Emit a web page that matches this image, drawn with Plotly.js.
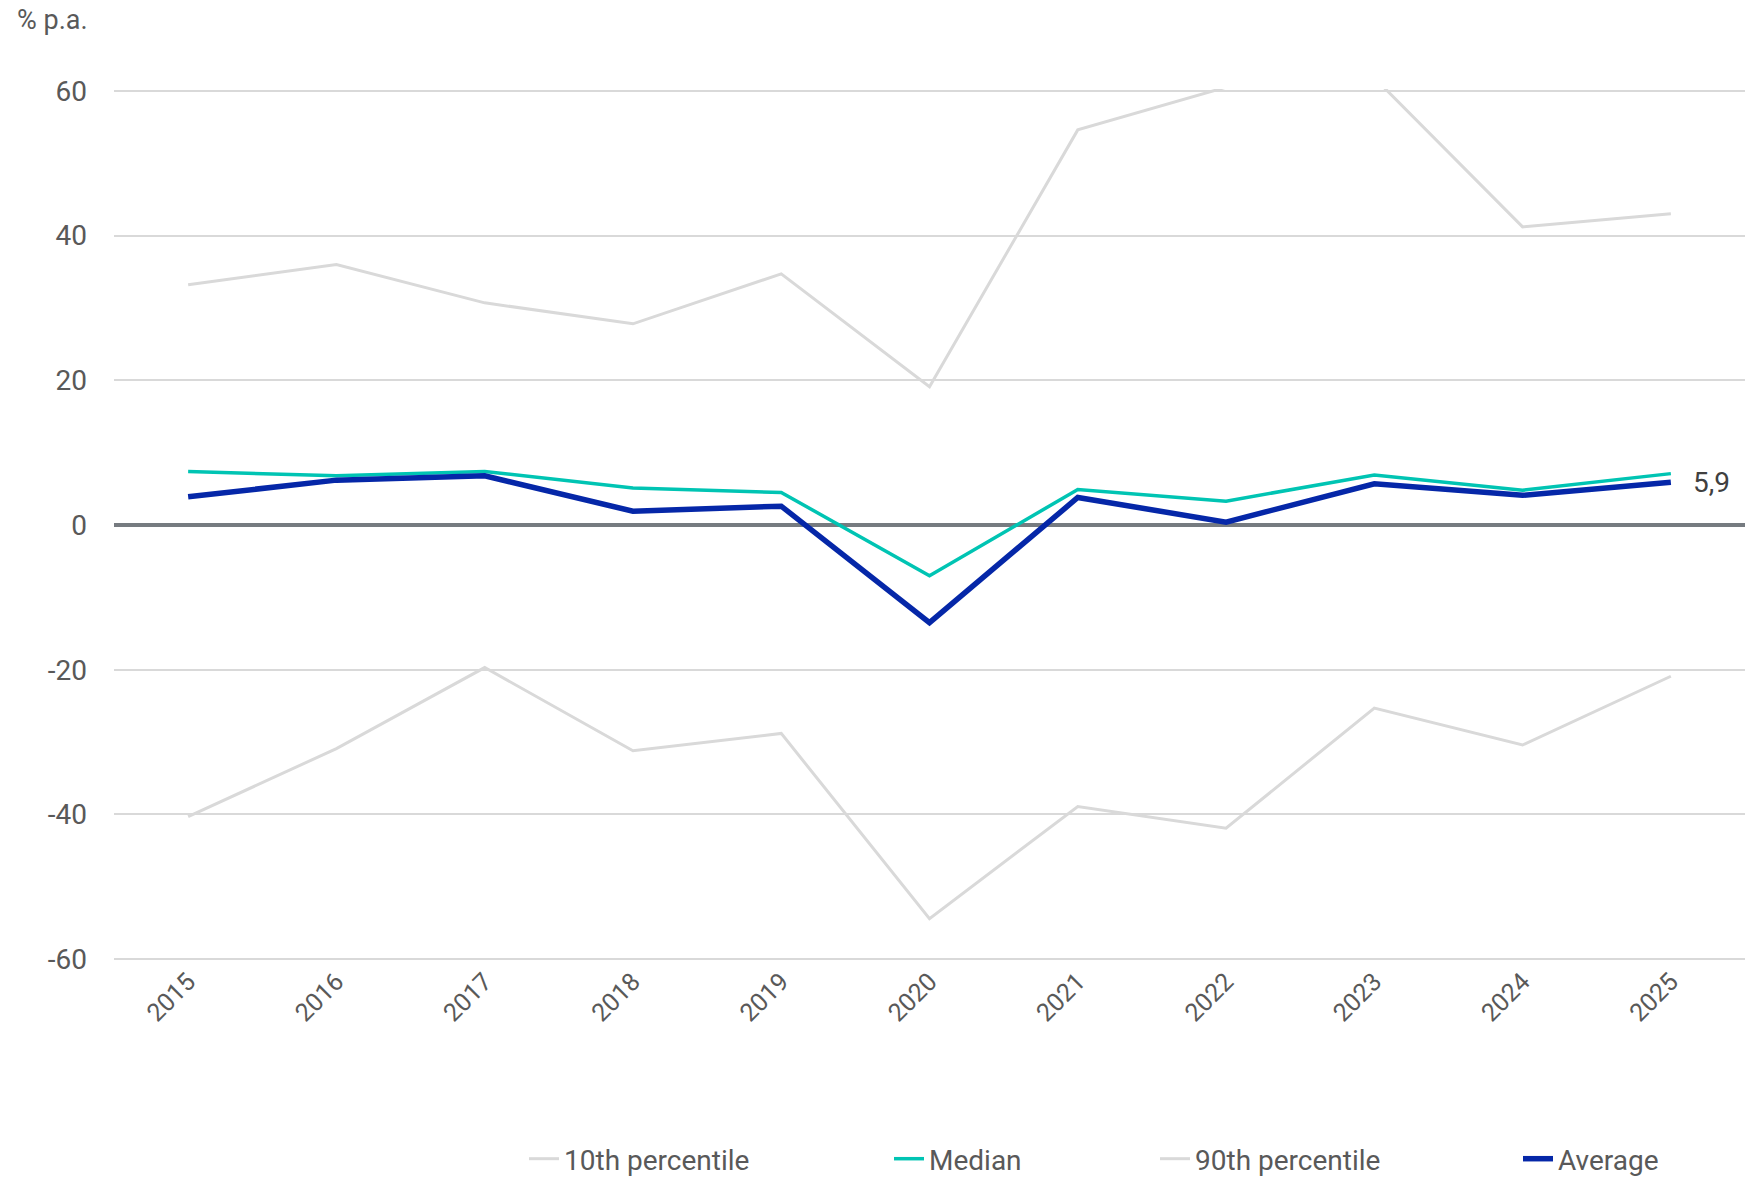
<!DOCTYPE html>
<html>
<head>
<meta charset="utf-8">
<script src="https://cdn.plot.ly/plotly-3.0.1.min.js"></script>
<style>
  html, body { margin: 0; padding: 0; background: #ffffff; }
  #chart { width: 1759px; height: 1178px; }
</style>
</head>
<body>
<div id="chart"></div>
<script>
// ---- data ----
const years = ['2015', '2016', '2017', '2018', '2019', '2020', '2021', '2022', '2023', '2024', '2025'];
const p10 = [-40.3, -30.9, -19.7, -31.2, -28.8, -54.4, -38.9, -41.9, -25.3, -30.4, -20.9];
const median = [7.4, 6.8, 7.4, 5.1, 4.5, -7.0, 4.9, 3.3, 6.9, 4.8, 7.1];
const p90 = [33.2, 36.0, 30.7, 27.8, 34.7, 19.1, 54.6, 60.5, 61.8, 41.2, 43.0];
const average = [3.9, 6.2, 6.8, 1.9, 2.6, -13.5, 3.8, 0.4, 5.7, 4.1, 5.9];
const seriesNames = ['10th percentile', 'Median', '90th percentile', 'Average'];
const yTickVals = [-60, -40, -20, 0, 20, 40, 60];
const yTickText = ['-60', '-40', '-20', '0', '20', '40', '60'];
const unitLabel = '% p.a.';

const FONT = 'Roboto, "Open Sans", Arial, sans-serif';
const TXT = '#595959';
const GRAY = '#d9d9d9';
const TEAL = '#00c4b3';
const BLUE = '#0527a8';

const traces = [
  { x: years, y: p10, name: seriesNames[0], type: 'scatter', mode: 'lines',
    line: { color: GRAY, width: 3 }, legend: 'legend' },
  { x: years, y: median, name: seriesNames[1], type: 'scatter', mode: 'lines',
    line: { color: TEAL, width: 3.5 }, legend: 'legend2' },
  { x: years, y: p90, name: seriesNames[2], type: 'scatter', mode: 'lines',
    line: { color: GRAY, width: 3 }, legend: 'legend3' },
  { x: years, y: average, name: seriesNames[3], type: 'scatter', mode: 'lines',
    line: { color: BLUE, width: 5.5 }, legend: 'legend4' }
];

const W = 1759, H = 1178;
const PAD = 0.25; // small range padding so the ±60 gridlines are drawn
const mL = 114, mR = 14, mT = 89, mB = 217;
const plotW = W - mL - mR;
function legendAt(textStartPx) {
  return {
    orientation: 'h',
    x: (textStartPx - 40 - mL) / plotW, xanchor: 'left',
    xref: 'paper',
    y: 1 - 1159 / H, yanchor: 'middle', yref: 'container',
    bgcolor: 'rgba(0,0,0,0)', borderwidth: 0,
    font: { family: FONT, size: 28, color: TXT }
  };
}

const lastIdx = average.length - 1;
const layout = {
  width: W, height: H,
  paper_bgcolor: '#ffffff', plot_bgcolor: '#ffffff',
  margin: { l: mL, r: mR, t: mT, b: mB, autoexpand: false },
  font: { family: FONT, color: TXT },
  showlegend: true,
  title: {
    text: unitLabel,
    font: { family: FONT, size: 27, color: TXT },
    xref: 'container', x: 17 / W, xanchor: 'left',
    yref: 'container', y: 1 - 20 / H, yanchor: 'middle'
  },
  xaxis: {
    type: 'category',
    range: [-0.5, years.length - 0.5],
    showgrid: false, zeroline: false, showline: false,
    ticks: '', tickangle: -45,
    tickfont: { family: FONT, size: 25, color: TXT },
    fixedrange: true
  },
  yaxis: {
    range: [-60 - PAD, 60 + PAD],
    tickvals: yTickVals, ticktext: yTickText,
    showgrid: true, gridcolor: GRAY, gridwidth: 2,
    zeroline: true, zerolinecolor: '#767b80', zerolinewidth: 3.5,
    showline: false, ticks: '',
    ticklabelstandoff: 26,
    tickfont: { family: FONT, size: 28, color: TXT },
    fixedrange: true
  },
  legend: legendAt(564),
  legend2: legendAt(929),
  legend3: legendAt(1195),
  legend4: legendAt(1558),
  annotations: [
    {
      x: lastIdx, y: average[lastIdx], xref: 'x', yref: 'y',
      text: average[lastIdx].toFixed(1).replace('.', ','),
      showarrow: false, xanchor: 'left', yanchor: 'middle', xshift: 20,
      font: { family: FONT, size: 28, color: '#404040' }
    }
  ]
};

Plotly.newPlot('chart', traces, layout, { displayModeBar: false, staticPlot: true });
</script>
</body>
</html>
